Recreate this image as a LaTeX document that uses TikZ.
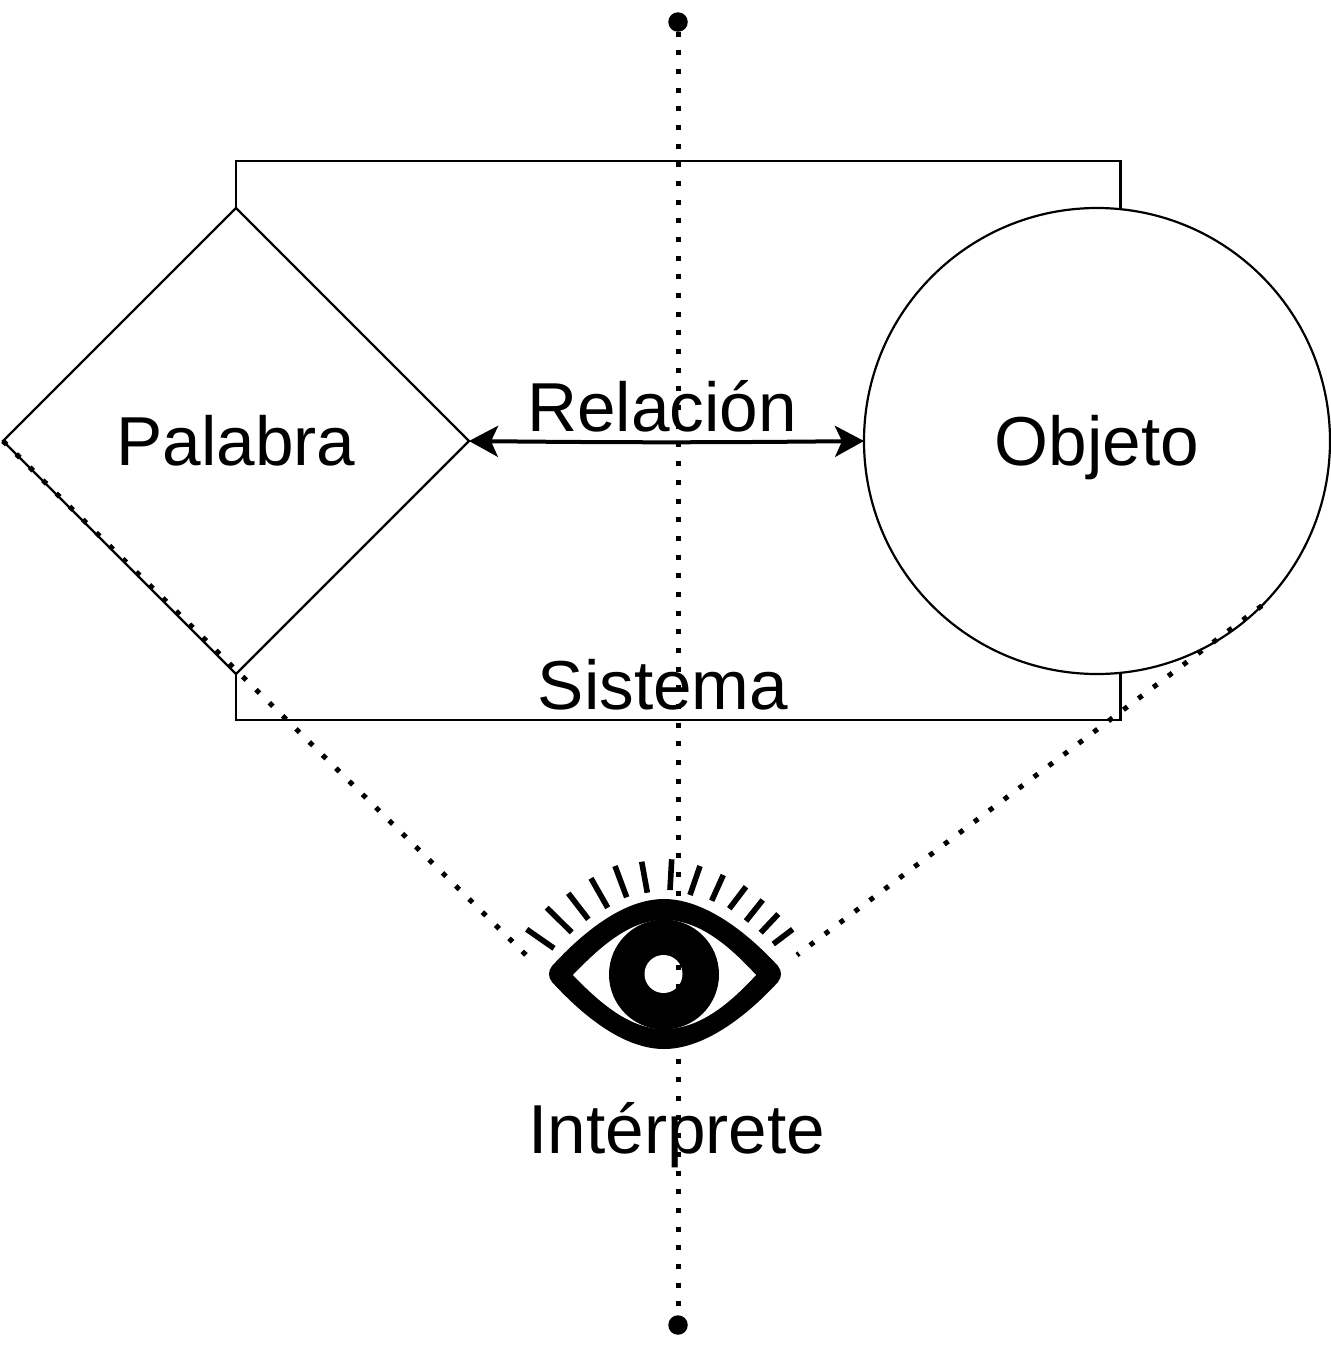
\documentclass[tikz,border=0pt]{standalone}
\usepackage{fontspec}
\setmainfont{Liberation Sans}
\usetikzlibrary{shapes.geometric,arrows.meta}
\tikzset{
  shapeline/.style={draw=black,line width=2.2pt,fill=white,inner sep=0pt,outer sep=0pt},
  lbl/.style={font=\fontsize{69.3}{80}\selectfont,text=black,inner sep=0pt,outer sep=0pt,text depth=0pt,text height=48pt},
  freelbl/.style={lbl,anchor=base},
  sight/.style={draw=black,line width=5pt,dash pattern=on 5pt off 13.67pt},
  enddot/.style={circle,fill=black,draw=none,minimum size=19.5pt,inner sep=0pt,outer sep=0pt},
  lash/.style={draw=black,line width=5.6pt},
  relarrow/.style={draw=black,line width=4pt,{Stealth[length=29pt,width=31pt,inset=7pt]}-{Stealth[length=29pt,width=31pt,inset=7pt]}}
}
\begin{document}
\begin{tikzpicture}[x=1pt,y=-1pt]
\useasboundingbox (0,0) rectangle (1331,1350);
\fill[white] (0,0) rectangle (1331,1350);
% system rectangle
\node[shapeline,fill=none,rectangle,minimum width=884.5pt,minimum height=559pt] (sys) at (678.25,440.5) {};
% word and object
\node[shapeline,diamond,aspect=1,minimum width=466pt,minimum height=466pt,lbl] (word) at (236,441) {Palabra};
\node[shapeline,circle,minimum size=466pt,lbl] (obj) at (1097,441) {Objeto};
% labels
\node[freelbl] (rel) at (662,431) {Relación};
\node[freelbl] (sis) at (663,709) {Sistema};
\node[freelbl] (int) at (677,1153) {Intérprete};
% relation arrow
\draw[relarrow] (word.east) to[bend right=0.6] (obj.west);
% eye
\fill[black] (552,966) .. controls (585,930) and (625,899) .. (664,899)
  .. controls (703,899) and (745,930) .. (778,966)
  .. controls (782,971) and (782,977) .. (778,982)
  .. controls (745,1018) and (703,1049) .. (664,1049)
  .. controls (625,1049) and (585,1018) .. (552,982)
  .. controls (548,977) and (548,971) .. (552,966) -- cycle;
\fill[white] (573,975) .. controls (600,947) and (630,920) .. (664,920)
  .. controls (700,920) and (730,947) .. (756,975)
  .. controls (730,1003) and (700,1029) .. (664,1029)
  .. controls (630,1029) and (600,1003) .. (573,975) -- cycle;
\fill[black] (664,974.5) circle[radius=55];
\fill[white] (663.5,974) circle[radius=19];
% lashes
\draw[lash] (526.7,929.3) -- (554,948.3);
\draw[lash] (546.7,907.7) -- (571.7,932.3);
\draw[lash] (568.3,893.3) -- (588.3,919.3);
\draw[lash] (591,878.3) -- (607.7,907.7);
\draw[lash] (615,866) -- (626.7,897.3);
\draw[lash] (641.7,861.7) -- (647.3,892.7);
\draw[lash] (671.7,859.3) -- (670,890);
\draw[lash] (700,866) -- (690,895);
\draw[lash] (723.3,875) -- (711.7,900.7);
\draw[lash] (746,886.7) -- (729.3,908.7);
\draw[lash] (762.7,900) -- (746,921);
\draw[lash] (778.3,914) -- (760.7,932.7);
\draw[lash] (792.7,929.3) -- (773.3,944);
% end dots and sight lines
\node[enddot] (top) at (678,22) {};
\node[enddot] (bot) at (678,1325) {};
\coordinate (eyeL) at (526,955);
\coordinate (eyeR) at (797,955);
\draw[sight] (top) -- (bot);
\draw[sight] (word.west) -- (eyeL);
\draw[sight] (obj.south east) -- (eyeR);
\end{tikzpicture}
\end{document}
